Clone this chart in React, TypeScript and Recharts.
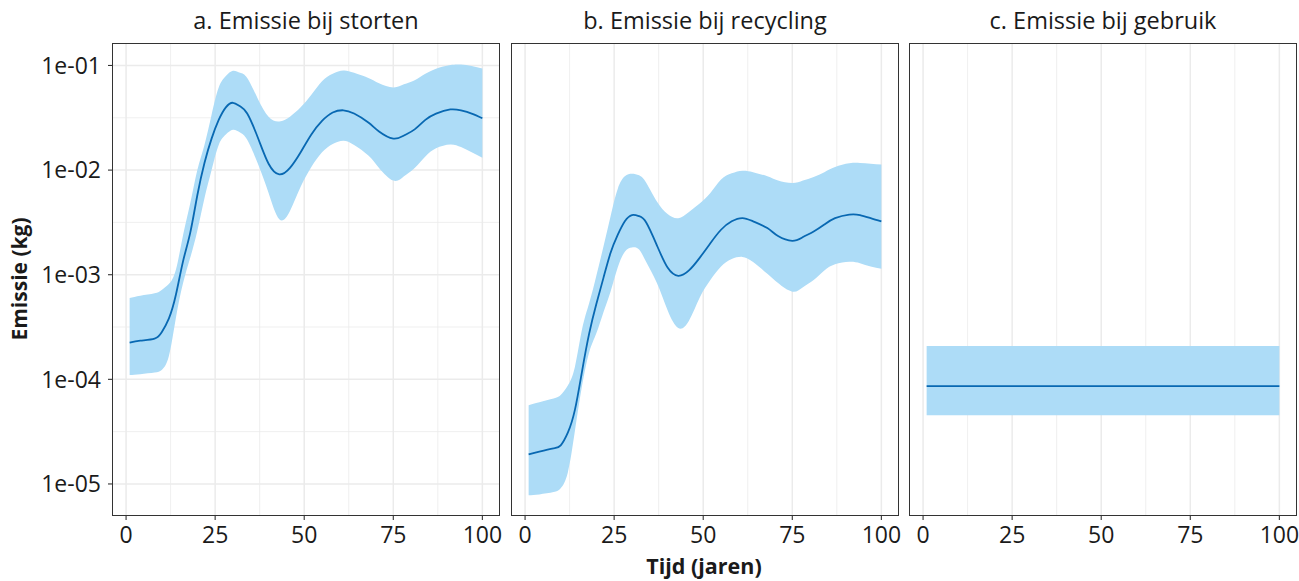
import React from "react";
import { ComposedChart, Area, Line, XAxis, YAxis, CartesianGrid } from "recharts";

// ---------- data ----------
const TIME = [1, 4, 8, 10, 12, 14, 16, 18, 20, 22, 24, 26, 28, 30, 32, 34, 37, 40, 43, 46, 49, 52, 55, 58, 61, 64, 68, 71, 75, 78, 81, 84, 87, 91, 94, 97, 100];

const STORTEN_MEAN = [2.24e-4, 2.34e-4, 2.45e-4, 2.82e-4, 3.8e-4, 6.46e-4, 1.35e-3, 2.51e-3, 5.75e-3, 1.17e-2, 2.0e-2, 3.02e-2, 3.98e-2, 4.4e-2, 4.07e-2, 3.47e-2, 2.04e-2, 1.15e-2, 9.1e-3, 1.05e-2, 1.48e-2, 2.19e-2, 2.95e-2, 3.55e-2, 3.73e-2, 3.47e-2, 2.85e-2, 2.34e-2, 2.0e-2, 2.14e-2, 2.45e-2, 3.02e-2, 3.47e-2, 3.8e-2, 3.72e-2, 3.47e-2, 3.13e-2];
const STORTEN_HIGH = [6.0e-4, 6.31e-4, 6.65e-4, 7.16e-4, 8.13e-4, 1.12e-3, 2.4e-3, 4.79e-3, 1.0e-2, 1.74e-2, 3.39e-2, 6.17e-2, 7.94e-2, 8.91e-2, 8.51e-2, 7.59e-2, 4.79e-2, 3.24e-2, 2.92e-2, 3.24e-2, 3.98e-2, 5.25e-2, 7.08e-2, 8.32e-2, 8.95e-2, 8.51e-2, 7.59e-2, 6.76e-2, 6.17e-2, 6.61e-2, 7.24e-2, 8.32e-2, 9.33e-2, 0.101, 0.102, 9.89e-2, 9.35e-2];
const STORTEN_LOW = [1.1e-4, 1.12e-4, 1.16e-4, 1.23e-4, 1.66e-4, 3.89e-4, 8.32e-4, 1.45e-3, 2.63e-3, 5.37e-3, 1.0e-2, 1.74e-2, 2.19e-2, 2.43e-2, 2.29e-2, 1.95e-2, 1.15e-2, 6.03e-3, 3.39e-3, 4.07e-3, 6.92e-3, 1.07e-2, 1.48e-2, 1.78e-2, 1.91e-2, 1.74e-2, 1.38e-2, 1.05e-2, 7.94e-3, 8.71e-3, 1.05e-2, 1.35e-2, 1.62e-2, 1.76e-2, 1.66e-2, 1.48e-2, 1.31e-2];

const RECYCLING_MEAN = [1.92e-5, 2.04e-5, 2.19e-5, 2.34e-5, 3.09e-5, 5.13e-5, 1.2e-4, 2.75e-4, 5.25e-4, 9.33e-4, 1.62e-3, 2.4e-3, 3.24e-3, 3.72e-3, 3.63e-3, 3.16e-3, 1.91e-3, 1.17e-3, 9.77e-4, 1.1e-3, 1.45e-3, 2.0e-3, 2.69e-3, 3.24e-3, 3.48e-3, 3.24e-3, 2.79e-3, 2.34e-3, 2.11e-3, 2.29e-3, 2.59e-3, 3.02e-3, 3.47e-3, 3.76e-3, 3.72e-3, 3.47e-3, 3.23e-3];
const RECYCLING_HIGH = [5.66e-5, 6.03e-5, 6.56e-5, 7.08e-5, 8.71e-5, 1.32e-4, 3.02e-4, 5.37e-4, 9.77e-4, 1.86e-3, 3.63e-3, 6.61e-3, 8.71e-3, 9.23e-3, 8.91e-3, 7.59e-3, 5.01e-3, 3.8e-3, 3.47e-3, 3.98e-3, 4.79e-3, 6.03e-3, 8.13e-3, 9.33e-3, 9.86e-3, 9.55e-3, 8.71e-3, 7.94e-3, 7.52e-3, 7.94e-3, 8.61e-3, 9.55e-3, 1.07e-2, 1.16e-2, 1.17e-2, 1.15e-2, 1.13e-2];
const RECYCLING_LOW = [7.78e-6, 7.94e-6, 8.36e-6, 9.12e-6, 1.29e-5, 3.24e-5, 8.71e-5, 1.82e-4, 2.75e-4, 4.37e-4, 6.92e-4, 1.17e-3, 1.66e-3, 1.82e-3, 1.74e-3, 1.32e-3, 8.32e-4, 4.57e-4, 3.09e-4, 3.63e-4, 6.03e-4, 8.91e-4, 1.2e-3, 1.41e-3, 1.48e-3, 1.32e-3, 1.02e-3, 8.32e-4, 6.89e-4, 7.59e-4, 8.91e-4, 1.1e-3, 1.26e-3, 1.33e-3, 1.29e-3, 1.2e-3, 1.14e-3];

const GEBRUIK_TIME = [1, 100];
const GEBRUIK_MEAN = [8.6e-5, 8.6e-5];
const GEBRUIK_HIGH = [2.08e-4, 2.08e-4];
const GEBRUIK_LOW = [4.54e-5, 4.54e-5];

const PANEL_TITLES = ["a. Emissie bij storten", "b. Emissie bij recycling", "c. Emissie bij gebruik"];
const X_TICKS = [0, 25, 50, 75, 100];
const X_MINOR = [12.5, 37.5, 62.5, 87.5];
const Y_TICKS = [1e-5, 1e-4, 1e-3, 1e-2, 1e-1];
const Y_TICK_LABELS = ["1e-05", "1e-04", "1e-03", "1e-02", "1e-01"];
const Y_MINOR = [3.162e-5, 3.162e-4, 3.162e-3, 3.162e-2];
const X_TITLE = "Tijd (jaren)";
const Y_TITLE = "Emissie (kg)";

// ---------- styles ----------
const X_DOMAIN: [number, number] = [-3.95, 104.95];
const Y_DOMAIN: [number, number] = [4.94e-6, 0.164];
const BAND = "#ADDCF7";
const LINE = "#0868B2";
const GRID = "#EBEBEB";
const TEXT = "#1A1A1A";
const FONT = "'Open Sans', 'Noto Sans', sans-serif";

const PLOT_TOP = 43;
const PLOT_H = 473;
const PLOT_W = 388;
const Y_AXIS_W = 112;
const RIGHT_PAD = 30;
const PANEL_LEFTS = [112, 511, 909];

const build = (t: number[], m: number[], lo: number[], hi: number[]) =>
  t.map((tt, i) => ({ t: tt, mean: m[i], lo: lo[i], hi: hi[i] }));

const PANELS = [
  build(TIME, STORTEN_MEAN, STORTEN_LOW, STORTEN_HIGH),
  build(TIME, RECYCLING_MEAN, RECYCLING_LOW, RECYCLING_HIGH),
  build(GEBRUIK_TIME, GEBRUIK_MEAN, GEBRUIK_LOW, GEBRUIK_HIGH),
];

const yLabel = (v: number) => {
  const i = Y_TICKS.findIndex((y) => Math.abs(Math.log10(y) - Math.log10(v)) < 1e-6);
  return i >= 0 ? Y_TICK_LABELS[i] : "";
};

function Panel({ idx }: { idx: number }) {
  const first = idx === 0;
  const yW = first ? Y_AXIS_W : 0;
  const width = yW + PLOT_W + RIGHT_PAD;
  const left = PANEL_LEFTS[idx] - yW;
  return (
    <div style={{ position: "absolute", left, top: 0, width, height: 581 }}>
      <ComposedChart
        width={width}
        height={581}
        data={PANELS[idx]}
        margin={{ top: PLOT_TOP, right: RIGHT_PAD, bottom: 581 - PLOT_TOP - PLOT_H - 30, left: 0 }}
      >
        <CartesianGrid
          horizontalValues={Y_MINOR}
          verticalValues={X_MINOR}
          stroke={GRID}
          strokeWidth={0.8}
        />
        <CartesianGrid
          horizontalValues={Y_TICKS}
          verticalValues={X_TICKS}
          stroke={GRID}
          strokeWidth={1.5}
        />
        <XAxis
          dataKey="t"
          type="number"
          domain={X_DOMAIN}
          ticks={X_TICKS}
          allowDataOverflow
          height={30}
          axisLine={false}
          tickLine={{ stroke: "#333333", strokeWidth: 1.1 }}
          tickSize={4}
          tickMargin={7}
          tick={{ fill: TEXT, fontSize: 23, fontFamily: FONT }}
          interval={0}
        />
        <YAxis
          type="number"
          scale="log"
          domain={Y_DOMAIN}
          ticks={Y_TICKS}
          allowDataOverflow
          width={yW}
          axisLine={false}
          tickLine={first ? { stroke: "#333333", strokeWidth: 1.1 } : false}
          tickSize={4}
          tickMargin={7}
          tick={first ? { fill: TEXT, fontSize: 23, fontFamily: FONT } : false}
          tickFormatter={yLabel}
          interval={0}
        />
        <Area
          dataKey={(d: any) => [d.lo, d.hi]}
          type="natural"
          stroke="none"
          fill={BAND}
          fillOpacity={1}
          isAnimationActive={false}
          dot={false}
          activeDot={false}
        />
        <Line
          dataKey="mean"
          type="natural"
          stroke={LINE}
          strokeWidth={1.8}
          dot={false}
          activeDot={false}
          isAnimationActive={false}
        />
      </ComposedChart>
      <div
        style={{
          position: "absolute",
          left: yW,
          top: PLOT_TOP,
          width: PLOT_W,
          height: PLOT_H,
          border: "1.3px solid #333333",
          boxSizing: "border-box",
          pointerEvents: "none",
        }}
      />
      <div
        style={{
          position: "absolute",
          left: yW - 20,
          top: 3,
          width: PLOT_W + 40,
          textAlign: "center",
          fontFamily: FONT,
          fontSize: 23.5,
          color: TEXT,
          lineHeight: "34px",
          whiteSpace: "nowrap",
        }}
      >
        {PANEL_TITLES[idx]}
      </div>
    </div>
  );
}

export default function App() {
  return (
    <div
      style={{
        position: "absolute",
        left: 0,
        top: 0,
        width: 1299,
        height: 581,
        background: "#FFFFFF",
        overflow: "hidden",
      }}
    >
      <Panel idx={0} />
      <Panel idx={1} />
      <Panel idx={2} />
      <div
        style={{
          position: "absolute",
          left: 19 - 100,
          top: 279 - 15,
          width: 200,
          height: 30,
          lineHeight: "30px",
          textAlign: "center",
          transform: "rotate(-90deg)",
          fontFamily: FONT,
          fontWeight: 700,
          fontSize: 21,
          color: TEXT,
          whiteSpace: "nowrap",
        }}
      >
        {Y_TITLE}
      </div>
      <div
        style={{
          position: "absolute",
          left: 704 - 150,
          top: 552,
          width: 300,
          height: 28,
          lineHeight: "28px",
          textAlign: "center",
          fontFamily: FONT,
          fontWeight: 700,
          fontSize: 21.5,
          color: TEXT,
          whiteSpace: "nowrap",
        }}
      >
        {X_TITLE}
      </div>
    </div>
  );
}
